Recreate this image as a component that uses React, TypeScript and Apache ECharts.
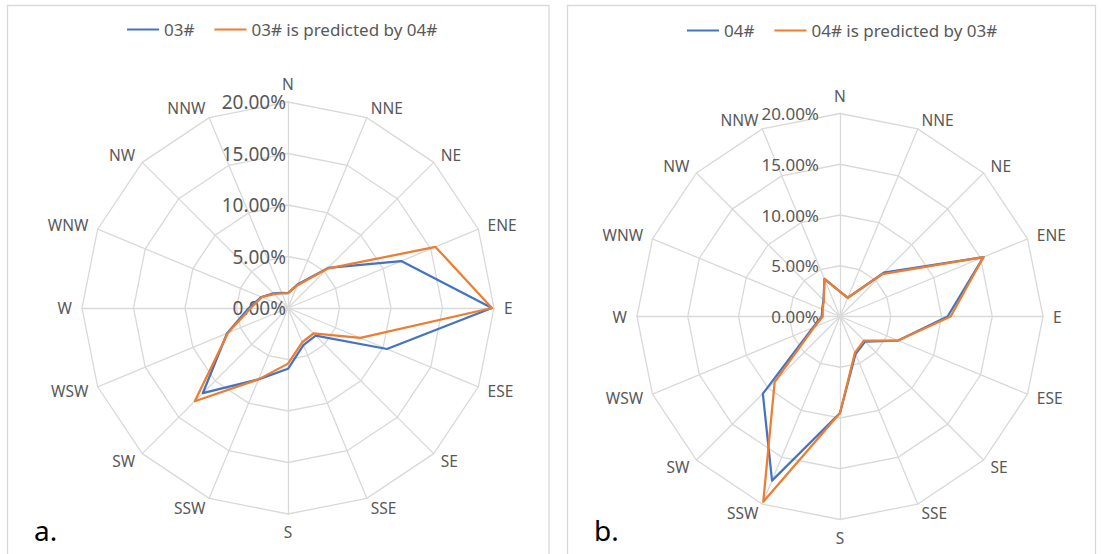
import React, { useEffect, useRef } from "react";
import * as echarts from "echarts";

// Wind directions, clockwise from North
const directions = ["N", "NNE", "NE", "ENE", "E", "ESE", "SE", "SSE", "S", "SSW", "SW", "WSW", "W", "WNW", "NW", "NNW"];

// Panel a (values in %)
const seriesA1Name = "03#";
const seriesA2Name = "03# is predicted by 04#";
const seriesA1 = [1.45, 2.5, 5.5, 11.9, 19.8, 10.4, 3.8, 3.9, 5.9, 7.5, 11.7, 6.4, 3.8, 2.8, 2.0, 1.6];
const seriesA2 = [1.45, 2.4, 5.4, 15.5, 19.8, 7.6, 3.5, 3.6, 5.4, 7.5, 12.8, 6.3, 3.6, 2.75, 1.9, 1.55];

// Panel b (values in %)
const seriesB1Name = "04#";
const seriesB2Name = "04# is predicted by 03#";
const seriesB1 = [2.45, 2.0, 6.1, 15.3, 10.6, 6.2, 3.5, 4.0, 9.5, 17.5, 10.75, 2.9, 1.8, 1.9, 2.3, 4.0];
const seriesB2 = [2.45, 2.0, 5.9, 15.3, 10.9, 6.2, 3.35, 3.85, 9.5, 19.75, 9.1, 2.75, 1.7, 1.85, 2.25, 4.0];

// Radial axis
const radialMin = 0;
const radialMax = 20;
const radialSplits = 4;

const BLUE = "#4472C4";
const ORANGE = "#ED7D31";
const GRID = "#D9D9D9";
const TEXT = "#595959";
const FONT = "Noto Sans";

// ECharts radar lays out indicators counter-clockwise; reorder to get a clockwise rose
function ccw<T>(arr: T[]): T[] {
  return [arr[0], ...arr.slice(1).reverse()];
}

function makeRadar(center: number[], radius: number, labelSize: number, labelMargin: number) {
  return {
    center,
    radius,
    startAngle: 90,
    shape: "polygon",
    splitNumber: radialSplits,
    indicator: ccw(directions).map((name, i) => ({
      name,
      min: radialMin,
      max: radialMax,
      axisLabel:
        i === 0
          ? {
              show: true,
              color: TEXT,
              fontSize: labelSize,
              fontFamily: FONT,
              margin: labelMargin,
              formatter: (v: number) => v.toFixed(2) + "%",
            }
          : { show: false },
    })),
    axisName: { color: TEXT, fontSize: 15.5, fontFamily: FONT },
    nameGap: 10,
    splitLine: { lineStyle: { color: GRID, width: 1.3 } },
    splitArea: { show: false },
    axisLine: { lineStyle: { color: GRID, width: 1.3 } },
    axisTick: { show: false },
    axisLabel: { show: false },
  };
}

function lineItem(name: string, values: number[], color: string) {
  return {
    name,
    value: ccw(values),
    lineStyle: { color, width: 2.25 },
    itemStyle: { color },
  };
}

export default function App() {
  const ref = useRef<HTMLDivElement>(null);
  useEffect(() => {
    if (!ref.current) return;
    const chart = echarts.init(ref.current, undefined, { renderer: "svg" });
    const legendCommon = {
      icon: "rect",
      itemWidth: 32,
      itemHeight: 2,
      itemGap: 20,
      padding: 0,
      textStyle: { color: TEXT, fontSize: 17, fontFamily: FONT },
    };
    chart.setOption({
      animation: false,
      backgroundColor: "#ffffff",
      legend: [
        { ...legendCommon, data: [seriesA1Name, seriesA2Name], left: 127, top: 21 },
        { ...legendCommon, data: [seriesB1Name, seriesB2Name], left: 687, top: 22 },
      ],
      radar: [makeRadar([288, 308], 206, 19, 2), makeRadar([840, 316.5], 203, 17, 21)],
      series: [
        {
          type: "radar",
          radarIndex: 0,
          symbol: "none",
          data: [lineItem(seriesA1Name, seriesA1, BLUE), lineItem(seriesA2Name, seriesA2, ORANGE)],
        },
        {
          type: "radar",
          radarIndex: 1,
          symbol: "none",
          data: [lineItem(seriesB1Name, seriesB1, BLUE), lineItem(seriesB2Name, seriesB2, ORANGE)],
        },
      ],
      graphic: [
        { type: "rect", shape: { x: 7.5, y: 5.5, width: 541.5, height: 560 }, style: { fill: "none", stroke: GRID, lineWidth: 1.3 }, silent: true },
        { type: "rect", shape: { x: 567.5, y: 5.5, width: 528, height: 560 }, style: { fill: "none", stroke: GRID, lineWidth: 1.3 }, silent: true },
        { type: "text", left: 34, top: 516, style: { text: "a.", fill: "#000", fontSize: 28, fontFamily: FONT } },
        { type: "text", left: 594, top: 516, style: { text: "b.", fill: "#000", fontSize: 28, fontFamily: FONT } },
      ],
    });
    return () => chart.dispose();
  }, []);
  return <div ref={ref} style={{ position: "absolute", left: 0, top: 0, width: 1101, height: 554 }} />;
}
